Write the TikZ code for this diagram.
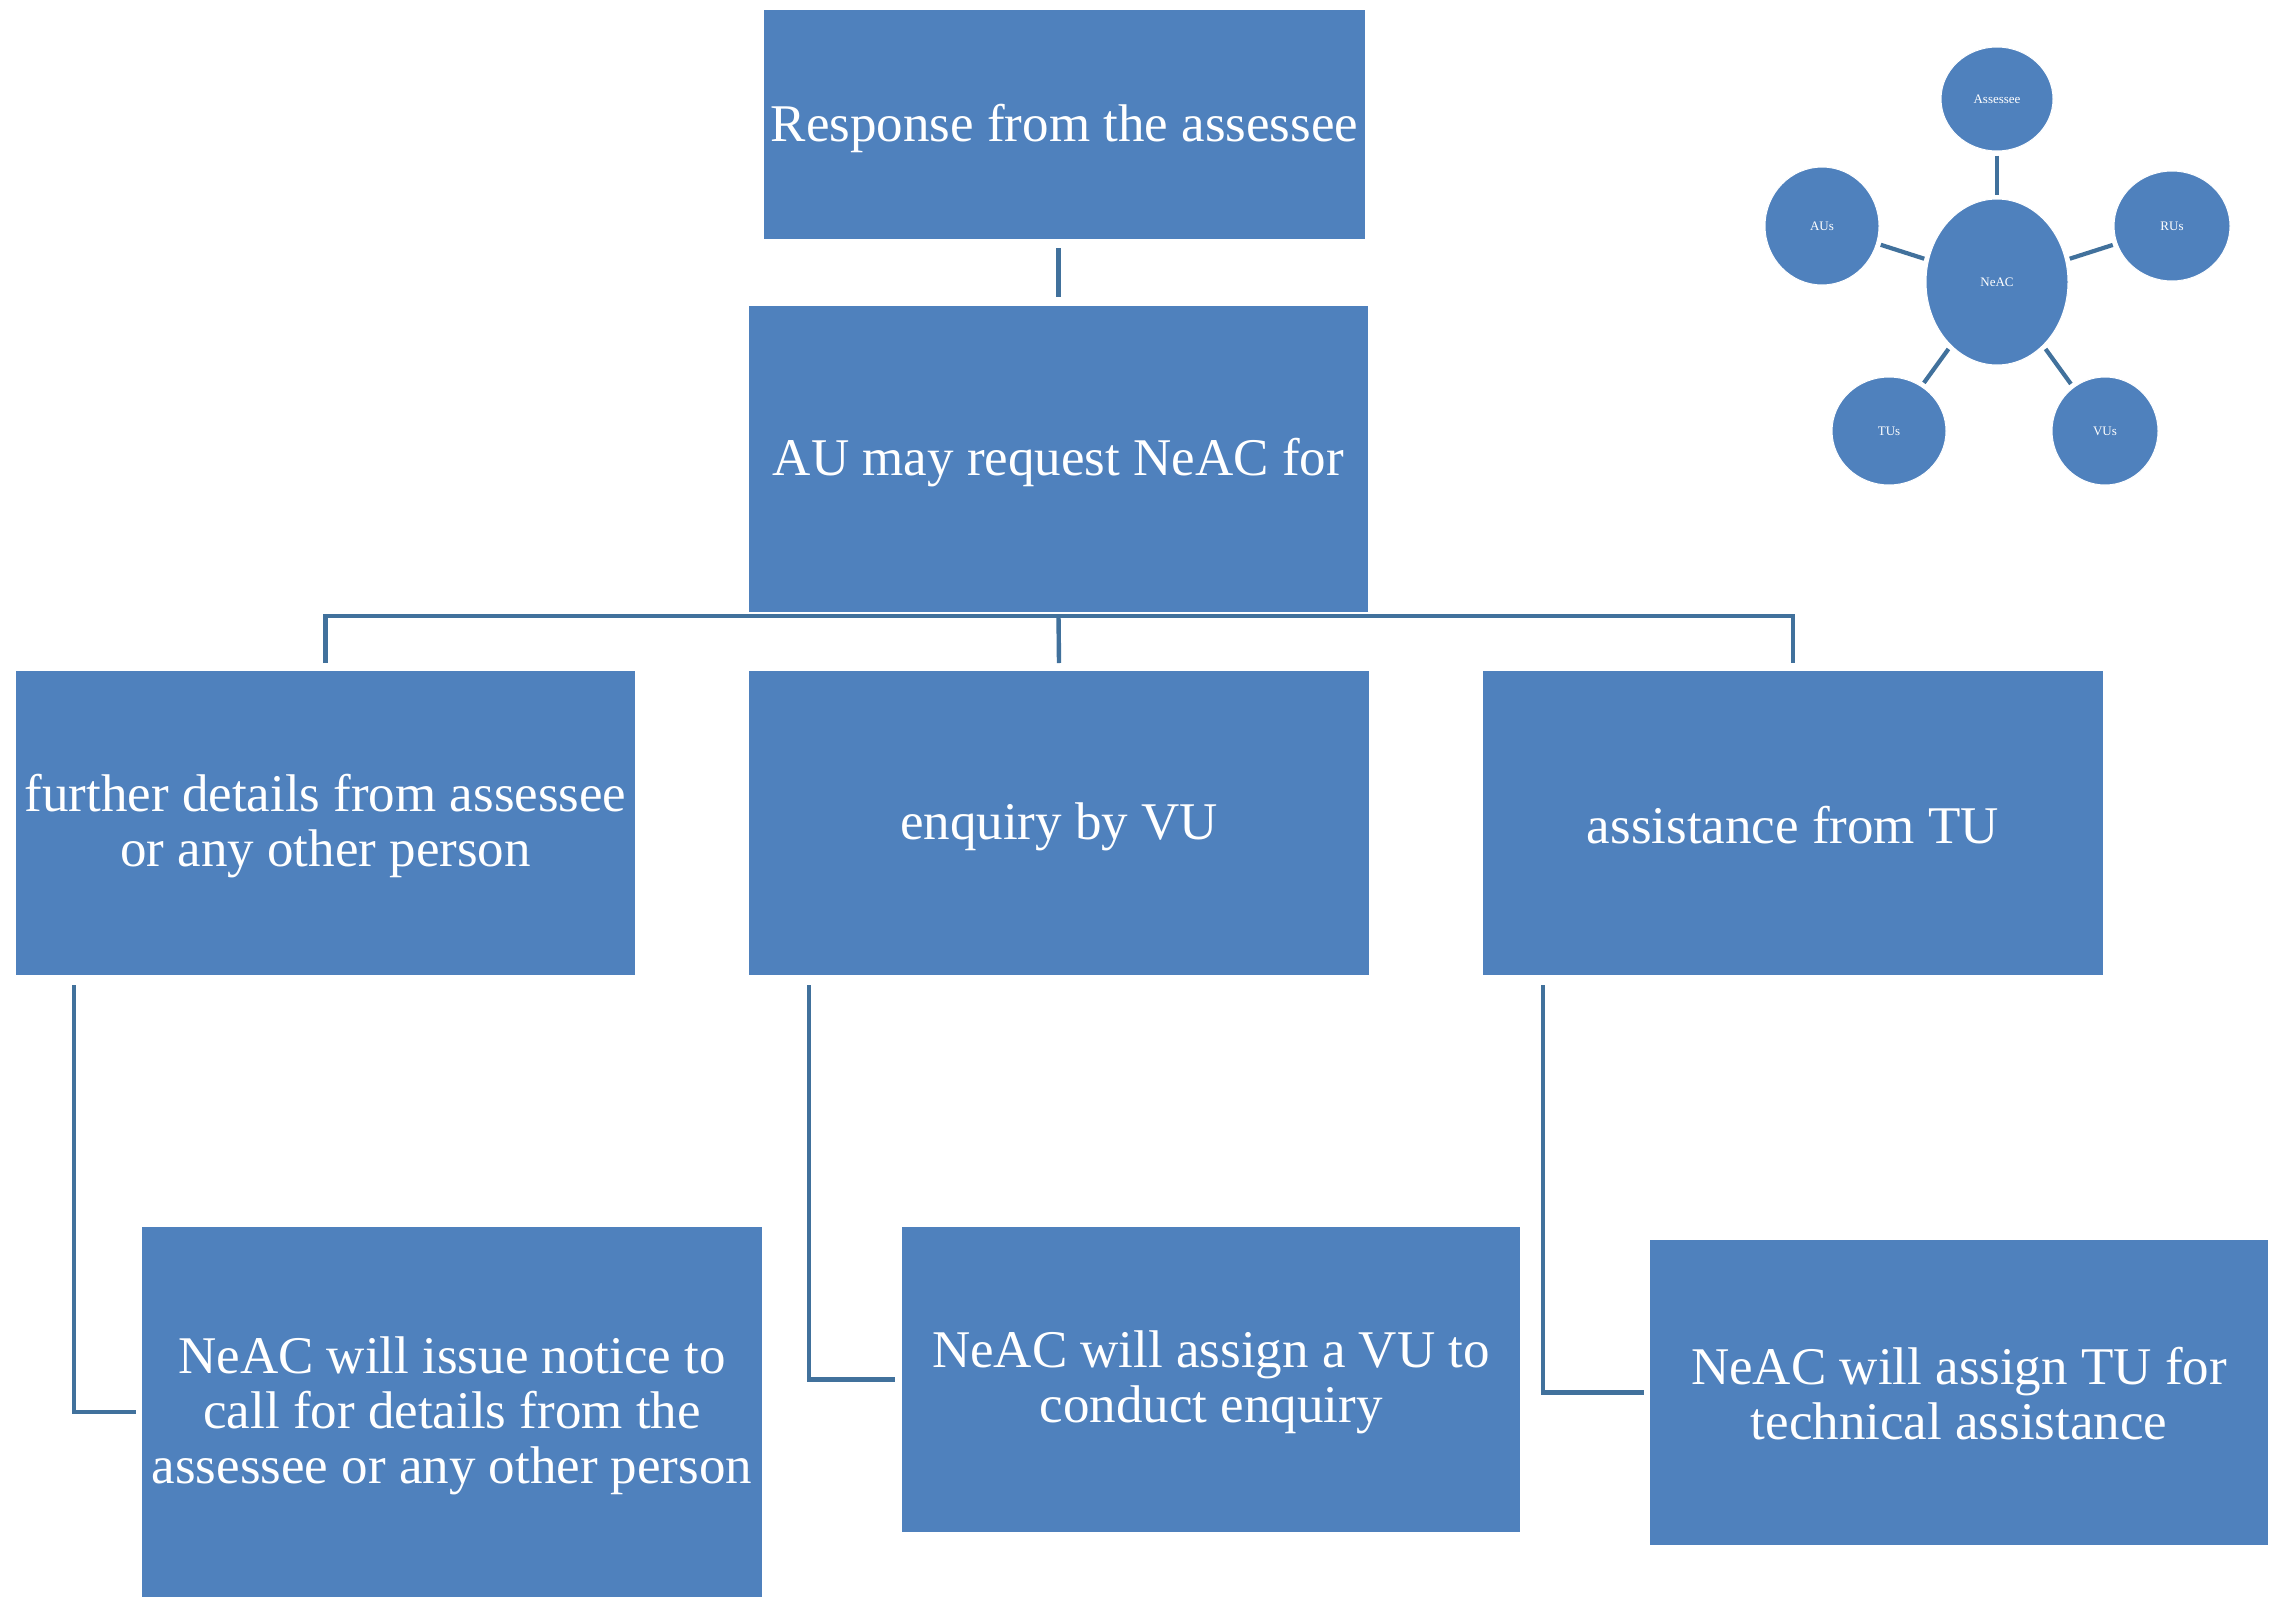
\documentclass[tikz,border=0pt]{standalone}
\usepackage{fontspec}
\setmainfont{Liberation Serif}
\usetikzlibrary{shapes.geometric,calc}
\definecolor{boxblue}{HTML}{4F81BD}
\definecolor{linkblue}{HTML}{41719C}
\tikzset{
  box/.style={rectangle, fill=boxblue, draw=white, line width=2pt, inner sep=0pt},
  boxtext/.style={inner sep=0pt, text=white, align=center, font=\fontsize{53}{55}\selectfont},
  conn/.style={draw=linkblue, line width=4.4pt},
  bubble/.style={ellipse, fill=boxblue, draw=white, line width=1pt, inner sep=0pt,
    text=white, font=\fontsize{13}{15}\selectfont},
  spoke/.style={draw=linkblue, line width=4.2pt, shorten >=4pt, shorten <=4pt}
}
\begin{document}
\begin{tikzpicture}[x=1pt,y=-1pt]
\useasboundingbox[fill=white] (0,0) rectangle (2278,1598);
% connectors first (behind the boxes)
\coordinate (hbar) at (1058.5,616);
% main boxes
\node[box, minimum width=603pt, minimum height=231pt] (top) at (1064.5,124.5) {};
\node[box, minimum width=621pt, minimum height=308pt] (au) at (1058.5,459) {};
\node[box, minimum width=621pt, minimum height=306pt] (b1) at (325.5,823) {};
\node[box, minimum width=622pt, minimum height=306pt] (b2) at (1059,823) {};
\node[box, minimum width=622pt, minimum height=306pt] (b3) at (1793,823) {};
\node[box, minimum width=622pt, minimum height=372pt] (c1) at (452,1412) {};
\node[box, minimum width=620pt, minimum height=307pt] (c2) at (1211,1379.5) {};
\node[box, minimum width=620pt, minimum height=307pt] (c3) at (1959,1392.5) {};
% box texts
\node[boxtext] (topt) at ([yshift=-4pt]top.center) {Response from the assessee};
\node[boxtext] (aut) at ([yshift=-4pt]au.center) {AU may request NeAC for};
\node[boxtext] (b1t) at ([yshift=-3pt]b1.center) {further details from assessee\\or any other person};
\node[boxtext] (b2t) at ([yshift=-4pt]b2.center) {enquiry by VU};
\node[boxtext] (b3t) at ([yshift=-2pt]b3.center) {assistance from TU};
\node[boxtext] (c1t) at ([yshift=-4pt]c1.center) {NeAC will issue notice to\\call for details from the\\assessee or any other person};
\node[boxtext] (c2t) at ([yshift=-3pt]c2.center) {NeAC will assign a VU to\\conduct enquiry};
\node[boxtext] (c3t) at ([yshift=-1pt]c3.center) {NeAC will assign TU for\\technical assistance};
% connectors
\draw[conn] ([yshift=-7pt]top.south -| au.north) -- ([yshift=7pt]au.north);
\draw[conn] ([yshift=6pt]b1.north) |- (hbar) -| ([yshift=6pt]b3.north);
\draw[conn] (hbar) -- ([yshift=6pt]b2.north);
\draw[conn] ([xshift=-251.5pt,yshift=-8pt]b1.south) |- ([xshift=-4pt]c1.west);
\draw[conn] ([xshift=-250pt,yshift=-8pt]b2.south) |- ([xshift=-5pt]c2.west);
\draw[conn] ([xshift=-250pt,yshift=-8pt]b3.south) |- ([xshift=-4pt]c3.west);
% network diagram
\node[bubble, minimum width=142pt, minimum height=166pt] (neac) at (1997,282) {NeAC};
\node[bubble, minimum width=112pt, minimum height=104pt] (ass) at (1997,99) {Assessee};
\node[bubble, minimum width=114pt, minimum height=118pt] (aus) at (1822,226) {AUs};
\node[bubble, minimum width=116pt, minimum height=110pt] (rus) at (2172,226) {RUs};
\node[bubble, minimum width=114pt, minimum height=108pt] (tus) at (1889,431) {TUs};
\node[bubble, minimum width=106pt, minimum height=108pt] (vus) at (2105,431) {VUs};
\draw[spoke] (ass) -- (neac);
\draw[spoke] (aus) -- (neac);
\draw[spoke] (rus) -- (neac);
\draw[spoke] (tus) -- (neac);
\draw[spoke] (vus) -- (neac);
\end{tikzpicture}
\end{document}
